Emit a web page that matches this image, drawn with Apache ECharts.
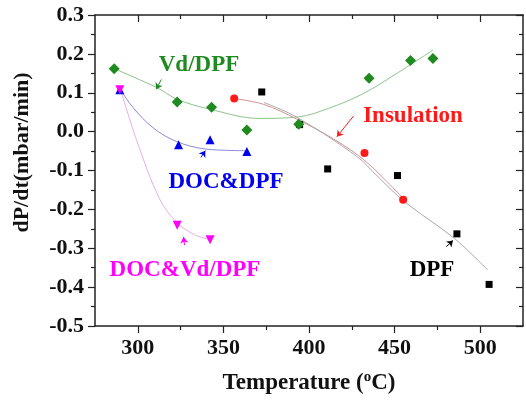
<!DOCTYPE html>
<html>
<head>
<meta charset="utf-8">
<script src="https://cdn.jsdelivr.net/npm/echarts@6/dist/echarts.min.js"></script>
<style>html,body{margin:0;padding:0;background:#fff}#c{width:526px;height:403px}</style>
</head>
<body>
<div id="c"></div>
<script>
// ---- data ----
const vdT = [286.2, 323.0, 343.1, 363.7, 394.0, 435.1, 459.3, 472.4];
const vdV = [0.162, 0.076, 0.063, 0.004, 0.019, 0.137, 0.183, 0.188];
const insT = [356.3, 432.4, 455.0];
const insV = [0.085, -0.055, -0.175];
const dpfT = [372.4, 394.5, 410.9, 451.7, 486.4, 505.2];
const dpfV = [0.102, 0.018, -0.096, -0.113, -0.263, -0.393];
const docT = [289.5, 323.8, 342.2, 363.7];
const docV = [0.108, -0.034, -0.021, -0.051];
const docVdT = [289.5, 323.0, 342.2];
const docVdV = [0.108, -0.241, -0.278];

// fitted curves
const vdFitT = [286.2, 311.2, 323.0, 341.8, 370.8, 394.0, 411.5, 430.9, 450.3, 472.5];
const vdFitV = [0.162, 0.113, 0.083, 0.058, 0.034, 0.038, 0.060, 0.096, 0.147, 0.210];
const insFitT = [356.3, 373.7, 392.9, 414.4, 433.5, 455.0];
const insFitV = [0.085, 0.070, 0.032, -0.019, -0.078, -0.172];
const dpfFitT = [373.7, 392.9, 427.7, 440.5, 456.0, 485.0, 504.4];
const dpfFitV = [0.075, 0.037, -0.063, -0.117, -0.181, -0.275, -0.356];
const docFitT = [289.9, 297.2, 308.9, 322.4, 339.9, 363.1];
const docFitV = [0.108, 0.062, 0.010, -0.025, -0.045, -0.049];
const docVdFitT = [289.9, 300.1, 312.7, 322.4, 333.1, 342.2];
const docVdFitV = [0.108, -0.032, -0.173, -0.232, -0.265, -0.278];

// axis ticks
const xMajorTicks = [300, 350, 400, 450, 500];
const xMinorTicks = [325, 375, 425, 475];

// annotation labels and arrows (data coordinates)
const labelTexts = ['Vd/DPF', 'DOC&DPF', 'DOC&Vd/DPF', 'Insulation', 'DPF'];
const arrowFrom = [[313.7, 0.134], [336.9, -0.066], [327.3, -0.292], [426.0, 0.040], [480.2, -0.296]];
const arrowTo = [[310.8, 0.109], [339.4, -0.049], [326.7, -0.271], [416.3, -0.013], [484.1, -0.280]];

// ---- styling ----
const FONT = '"Liberation Serif", "Times New Roman", serif';
const C_GREEN = '#1f8a1f', C_RED = '#ff1a1a', C_BLACK = '#000000', C_BLUE = '#0000ee', C_MAG = '#ff00ff';
const labelColors = [C_GREEN, C_BLUE, C_MAG, C_RED, C_BLACK];
const labelPos = [[199, 65], [226, 182], [185, 270], [413, 116], [432, 270]];

const zip = (a, b) => a.map((v, i) => [v, b[i]]);

function fitSeries(t, v, color) {
  return { type: 'line', data: zip(t, v), smooth: 0.35, showSymbol: false, silent: true, z: 1,
    lineStyle: { color: color, width: 1 } };
}
function ptSeries(t, v, symbol, size, color, z) {
  return { type: 'scatter', data: zip(t, v), symbol: symbol, symbolSize: size, z: z || 3,
    itemStyle: { color: color, opacity: 1 } };
}

const axisLine = { show: true, onZero: false, lineStyle: { color: '#222', width: 1.5 } };
const noLine = { show: false, onZero: false };
const baseX = { type: 'value', min: 275, max: 525, splitLine: { show: false } };

const option = {
  backgroundColor: '#fff',
  animation: false,
  grid: { left: 95, top: 15, right: 3, bottom: 75, containLabel: false },
  xAxis: [
    Object.assign({}, baseX, {
      position: 'bottom', axisLine: axisLine,
      axisTick: { show: true, inside: false, length: 7, customValues: xMajorTicks, lineStyle: { color: '#222', width: 1.2 } },
      axisLabel: { show: true, customValues: xMajorTicks, margin: 11, color: '#111', fontFamily: FONT, fontWeight: 'bold', fontSize: 22 },
      name: 'Temperature ({sup|o}C)', nameLocation: 'middle', nameGap: 44,
      nameTextStyle: { color: '#111', fontFamily: FONT, fontWeight: 'bold', fontSize: 23, lineHeight: 26,
        rich: { sup: { fontFamily: FONT, fontWeight: 'bold', fontSize: 15, color: '#111', verticalAlign: 'top', lineHeight: 26, padding: [0, 0, 13, 0] } } }
    }),
    Object.assign({}, baseX, {
      position: 'bottom', axisLine: noLine,
      axisTick: { show: true, inside: false, length: 4, customValues: xMinorTicks, lineStyle: { color: '#222', width: 1.2 } },
      axisLabel: { show: false }
    }),
    Object.assign({}, baseX, {
      position: 'top', axisLine: axisLine,
      axisTick: { show: true, inside: true, length: 7, customValues: xMajorTicks, lineStyle: { color: '#222', width: 1.2 } },
      axisLabel: { show: false }
    }),
    Object.assign({}, baseX, {
      position: 'top', axisLine: noLine,
      axisTick: { show: true, inside: true, length: 4, customValues: xMinorTicks, lineStyle: { color: '#222', width: 1.2 } },
      axisLabel: { show: false }
    })
  ],
  yAxis: [
    { type: 'value', min: -0.5, max: 0.3, interval: 0.1, position: 'left', axisLine: axisLine,
      splitLine: { show: false },
      axisTick: { show: true, inside: false, length: 7, lineStyle: { color: '#222', width: 1.2 } },
      minorTick: { show: true, splitNumber: 2, length: 4, lineStyle: { color: '#222', width: 1.2 } },
      axisLabel: { margin: 11, color: '#111', fontFamily: FONT, fontWeight: 'bold', fontSize: 22,
        formatter: v => v.toFixed(1) },
      name: 'dP/dt(mbar/min)', nameLocation: 'middle', nameGap: 62, nameRotate: 90,
      nameTextStyle: { color: '#111', fontFamily: FONT, fontWeight: 'bold', fontSize: 22, padding: [0, 0, 0, 36] } },
    { type: 'value', min: -0.5, max: 0.3, interval: 0.1, position: 'right', axisLine: axisLine,
      splitLine: { show: false },
      axisTick: { show: true, inside: true, length: 7, lineStyle: { color: '#222', width: 1.2 } },
      minorTick: { show: true, splitNumber: 2, length: 4, lineStyle: { color: '#222', width: 1.2 } },
      axisLabel: { show: false } }
  ],
  series: [
    fitSeries(vdFitT, vdFitV, '#8cc48c'),
    fitSeries(docFitT, docFitV, '#8a8ad8'),
    fitSeries(docVdFitT, docVdFitV, '#e8b0e8'),
    fitSeries(insFitT, insFitV, '#d89090'),
    fitSeries(dpfFitT, dpfFitV, '#a8a8a8'),
    {
      type: 'line', data: [], silent: true, z: 4,
      markLine: {
        silent: true, symbol: ['none', 'arrow'], symbolSize: 6, animation: false,
        label: { show: false },
        data: arrowFrom.map((f, i) => [
          { coord: f, lineStyle: { color: labelColors[i], width: 1, type: 'solid' } },
          { coord: arrowTo[i] }
        ])
      }
    },
    ptSeries(dpfT, dpfV, 'rect', 7, C_BLACK, 3),
    ptSeries(insT, insV, 'circle', 8, C_RED, 3),
    ptSeries(vdT, vdV, 'diamond', 11, C_GREEN, 4),
    ptSeries(docT, docV, 'triangle', 9, C_BLUE, 4),
    ptSeries(docVdT, docVdV, 'path://M0,0L10,0L5,9Z', 9, C_MAG, 5)
  ],
  graphic: labelTexts.map((t, i) => ({
    type: 'text', x: labelPos[i][0], y: labelPos[i][1], z: 10, silent: true,
    style: { text: t, fill: labelColors[i], font: 'bold 23px ' + FONT, align: 'center', verticalAlign: 'middle' }
  }))
};

const chart = echarts.init(document.getElementById('c'), null, { renderer: 'canvas' });
chart.setOption(option);
</script>
</body>
</html>
